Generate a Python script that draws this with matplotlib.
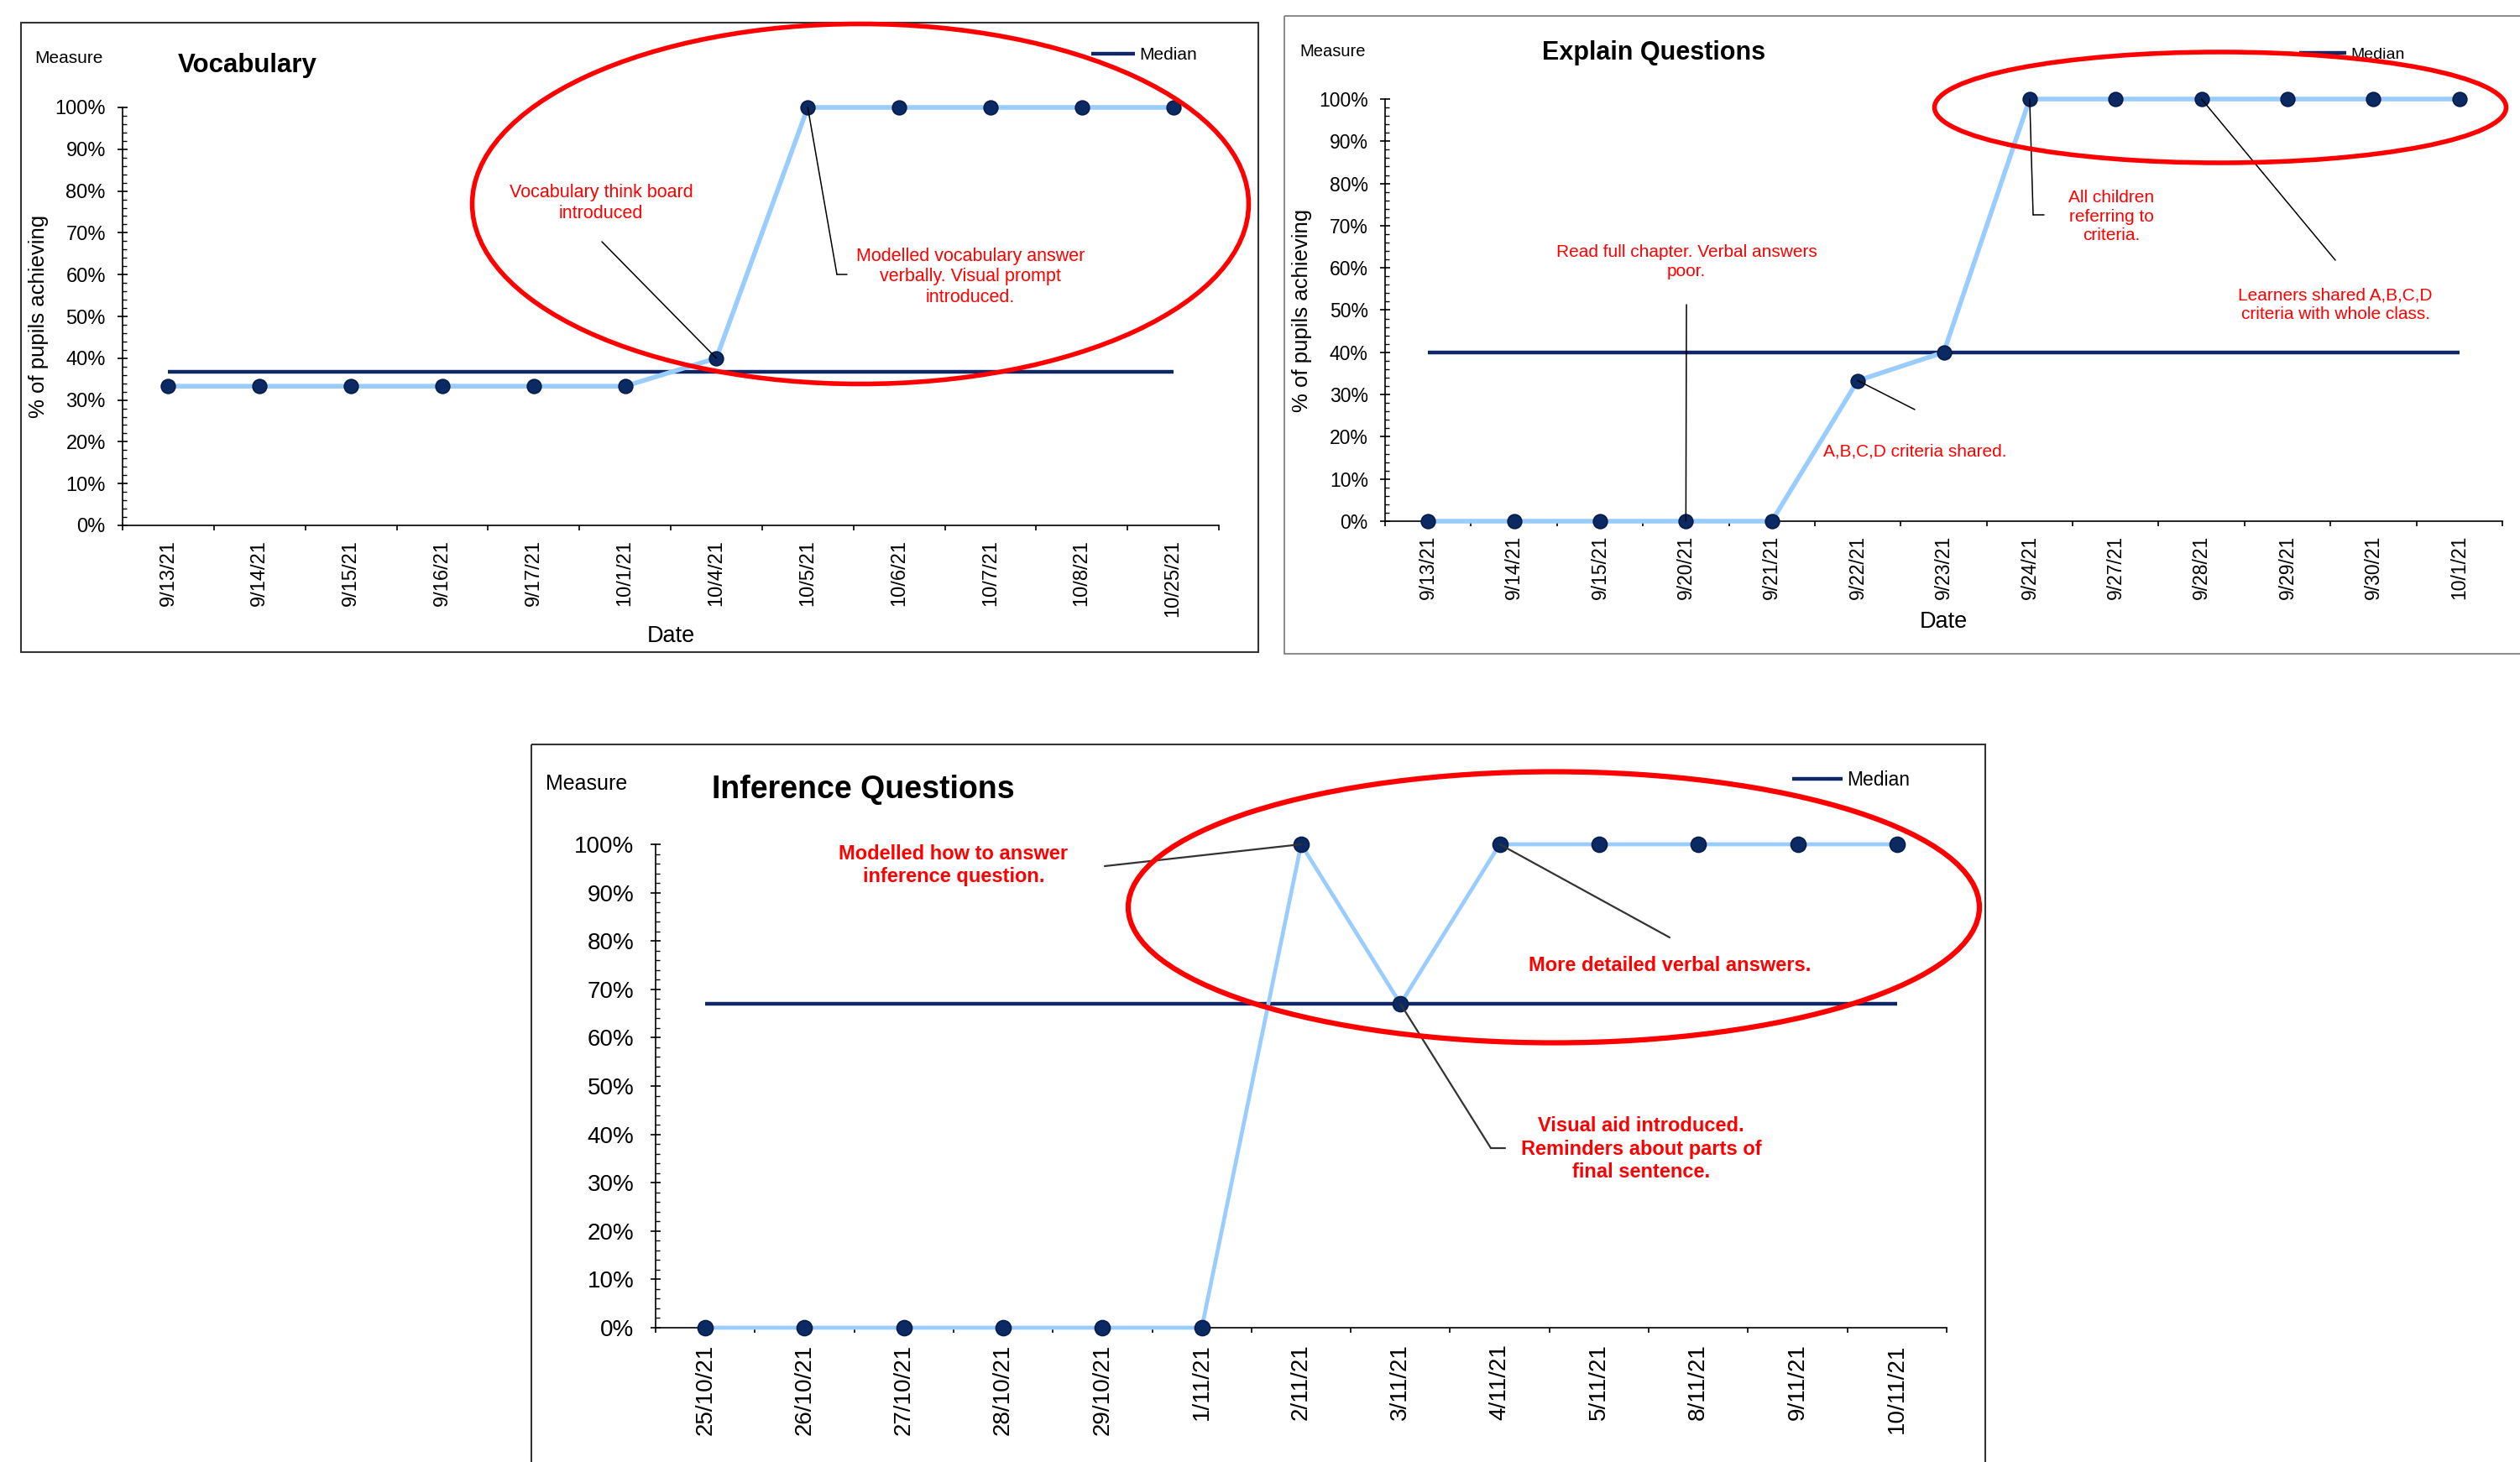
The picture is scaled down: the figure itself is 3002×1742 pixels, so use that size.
import matplotlib.pyplot as plt
from matplotlib.patches import Ellipse, Rectangle
from matplotlib.ticker import MultipleLocator, PercentFormatter
import numpy as np

plt.rcParams['font.family'] = ['Liberation Sans', 'DejaVu Sans']

W, H = 3002, 1742

NAVY = '#0f2766'
LIGHT = '#99ccff'
MARK = '#0b2a63'
MARK_EDGE = '#061c4a'

# data
vocab_dates = ['9/13/21', '9/14/21', '9/15/21', '9/16/21', '9/17/21', '10/1/21',
               '10/4/21', '10/5/21', '10/6/21', '10/7/21', '10/8/21', '10/25/21']
vocab_values = [0.333, 0.333, 0.333, 0.333, 0.333, 0.333, 0.40, 1.0, 1.0, 1.0, 1.0, 1.0]

explain_dates = ['9/13/21', '9/14/21', '9/15/21', '9/20/21', '9/21/21', '9/22/21', '9/23/21',
                 '9/24/21', '9/27/21', '9/28/21', '9/29/21', '9/30/21', '10/1/21']
explain_values = [0, 0, 0, 0, 0, 0.333, 0.40, 1.0, 1.0, 1.0, 1.0, 1.0, 1.0]

infer_dates = ['25/10/21', '26/10/21', '27/10/21', '28/10/21', '29/10/21', '1/11/21', '2/11/21',
               '3/11/21', '4/11/21', '5/11/21', '8/11/21', '9/11/21', '10/11/21']
infer_values = [0, 0, 0, 0, 0, 0, 1.0, 0.67, 1.0, 1.0, 1.0, 1.0, 1.0]


def box(l, t, r, b):
    """Pixel box (from top-left) to figure fraction rect."""
    return [l / W, 1 - b / H, (r - l) / W, (b - t) / H]


def px(x, y):
    return (x, H - y)


fig = plt.figure(figsize=(W / 100, H / 100), dpi=100)


def draw_panel(ax, dates, values, tick_size, ms, lw, med_lw, xpad, ypad):
    n = len(dates)
    x = np.arange(n)
    med = np.median(values)
    med_line, = ax.plot(x, [med] * n, color=NAVY, lw=med_lw, label='Median',
                        solid_capstyle='butt', zorder=2)
    ax.plot(x, values, color=LIGHT, lw=lw, marker='o', ms=ms, mfc=MARK, mec=MARK_EDGE,
            mew=1.2, zorder=3, clip_on=False, solid_joinstyle='round')
    ax.set_xlim(-0.5, n - 0.5)
    ax.set_ylim(0, 1)
    ax.set_xticks(x, dates, rotation=90, fontsize=tick_size)
    ax.set_xticks(np.arange(-0.5, n), minor=True)
    ax.tick_params(axis='x', which='major', length=0, pad=xpad)
    ax.tick_params(axis='x', which='minor', length=4, direction='out', width=1.2)
    ax.yaxis.set_major_locator(MultipleLocator(0.1))
    ax.yaxis.set_minor_locator(MultipleLocator(0.02))
    ax.yaxis.set_major_formatter(PercentFormatter(1.0, decimals=0))
    ax.tick_params(axis='y', which='major', direction='inout', length=9, width=1.2,
                   labelsize=tick_size, pad=ypad)
    ax.tick_params(axis='y', which='minor', direction='in', length=3.5, width=1)
    for s in ['top', 'right']:
        ax.spines[s].set_visible(False)
    for s in ['left', 'bottom']:
        ax.spines[s].set_linewidth(1.2)
    return med_line


def note(ax, text, xy, text_px, line_px, size, weight='normal', elbow_px=None,
         lw=1.1, color='black'):
    fig.text(text_px[0] / W, 1 - text_px[1] / H, text, color='red', ha='center',
             va='center', fontsize=size, fontweight=weight, linespacing=1.25)
    style = dict(arrowstyle='-', color=color, lw=lw, shrinkA=0, shrinkB=0)
    ax.annotate('', xy=xy, xycoords='data', xytext=px(*line_px),
                textcoords='figure pixels', arrowprops=style, annotation_clip=False)
    if elbow_px:
        ax.annotate('', xy=px(*elbow_px), xycoords='figure pixels', xytext=px(*line_px),
                    textcoords='figure pixels', arrowprops=style, annotation_clip=False)


def header(left_m, y_m, m_size, left_t, y_t, title, t_size, ax, handle, leg_x, leg_y,
           leg_size, hl):
    fig.text(left_m / W, 1 - y_m / H, 'Measure', fontsize=m_size, va='center')
    fig.text(left_t / W, 1 - y_t / H, title, fontsize=t_size, fontweight='bold', va='center')
    ax.legend(handles=[handle], loc='center left', bbox_to_anchor=(leg_x / W, 1 - leg_y / H),
              bbox_transform=fig.transFigure, frameon=False, borderpad=0, borderaxespad=0,
              handlelength=hl, handletextpad=0.25, fontsize=leg_size)


# ---- Vocabulary
ax1 = fig.add_axes(box(146, 128, 1452, 626))
h1 = draw_panel(ax1, vocab_dates, vocab_values, 17, 12, 4, 3.2, 12, 10)
ax1.set_ylabel('% of pupils achieving', fontsize=18.5, va='center')
ax1.yaxis.set_label_coords(-0.0766, 0.5)
ax1.set_xlabel('Date', fontsize=19.5, va='center')
ax1.xaxis.set_label_coords(0.5, -0.265)
header(41, 69.5, 15, 212, 78, 'Vocabulary', 22.5, ax1, h1, 1300, 65.5, 15, 2.5)
note(ax1, 'Vocabulary think board\nintroduced', (6, vocab_values[6]), (716, 242), (717, 288), 15.5)
note(ax1, 'Modelled vocabulary answer\nverbally. Visual prompt\nintroduced.',
     (7, vocab_values[7]), (1156, 330), (997, 327), 15.5, elbow_px=(1009, 327))

# ---- Explain Questions
ax2 = fig.add_axes(box(1650, 118, 2981, 621))
h2 = draw_panel(ax2, explain_dates, explain_values, 16.5, 12, 4, 3.2, 12, 10)
ax2.set_ylabel('% of pupils achieving', fontsize=18.5, va='center')
ax2.yaxis.set_label_coords(-0.0744, 0.5)
ax2.set_xlabel('Date', fontsize=19.5, va='center')
ax2.xaxis.set_label_coords(0.5, -0.2386)
header(1548, 61.5, 14.5, 1837, 63, 'Explain Questions', 22, ax2, h2, 2739, 65.5, 14, 2.9)
note(ax2, 'Read full chapter. Verbal answers\npoor.', (3, explain_values[3]), (2009, 312),
     (2009, 363), 15)
note(ax2, 'A,B,C,D criteria shared.', (5, explain_values[5]), (2281, 538), (2281, 488), 15)
note(ax2, 'All children\nreferring to\ncriteria.', (7, explain_values[7]), (2515, 258),
     (2422, 256), 15, elbow_px=(2435, 256))
note(ax2, 'Learners shared A,B,C,D\ncriteria with whole class.', (9, explain_values[9]),
     (2782, 363), (2782, 310), 15)

# ---- Inference Questions
ax3 = fig.add_axes(box(781, 1006, 2319, 1582))
h3 = draw_panel(ax3, infer_dates, infer_values, 20, 13, 3.4, 3.2, 14, 14)
header(650, 934, 18, 848, 941, 'Inference Questions', 27, ax3, h3, 2135, 929.5, 16.5, 2.6)
note(ax3, 'Modelled how to answer\ninference question.', (6, infer_values[6]), (1136, 1031),
     (1316, 1032), 17, weight='bold', lw=1.6, color='#333333')
note(ax3, 'More detailed verbal answers.', (8, infer_values[8]), (1989, 1150),
     (1989, 1117), 17, weight='bold', lw=1.6, color='#333333')
note(ax3, 'Visual aid introduced.\nReminders about parts of\nfinal sentence.',
     (7, infer_values[7]), (1955, 1369), (1776, 1368), 17, weight='bold',
     elbow_px=(1793, 1368), lw=1.6, color='#333333')

# ---- overlay: screenshot frames and red ellipses
ov = fig.add_axes([0, 0, 1, 1], zorder=10)
ov.set_xlim(0, W)
ov.set_ylim(H, 0)
ov.axis('off')
ov.add_patch(Rectangle((25, 27), 1474, 750, fill=False, ec='#333333', lw=1.5))
ov.add_patch(Rectangle((1530, 19), 1490, 760, fill=False, ec='#777777', lw=1.2))
ov.add_patch(Rectangle((633, 887), 1732, 900, fill=False, ec='#333333', lw=1.5))
ov.add_patch(Ellipse((1025, 243), 925, 429, fill=False, ec='red', lw=4))
ov.add_patch(Ellipse((2645, 128), 681, 132, fill=False, ec='red', lw=4))
ov.add_patch(Ellipse((1851, 1081), 1014, 323, fill=False, ec='red', lw=4.5))

fig.savefig('out.png', dpi=100)
